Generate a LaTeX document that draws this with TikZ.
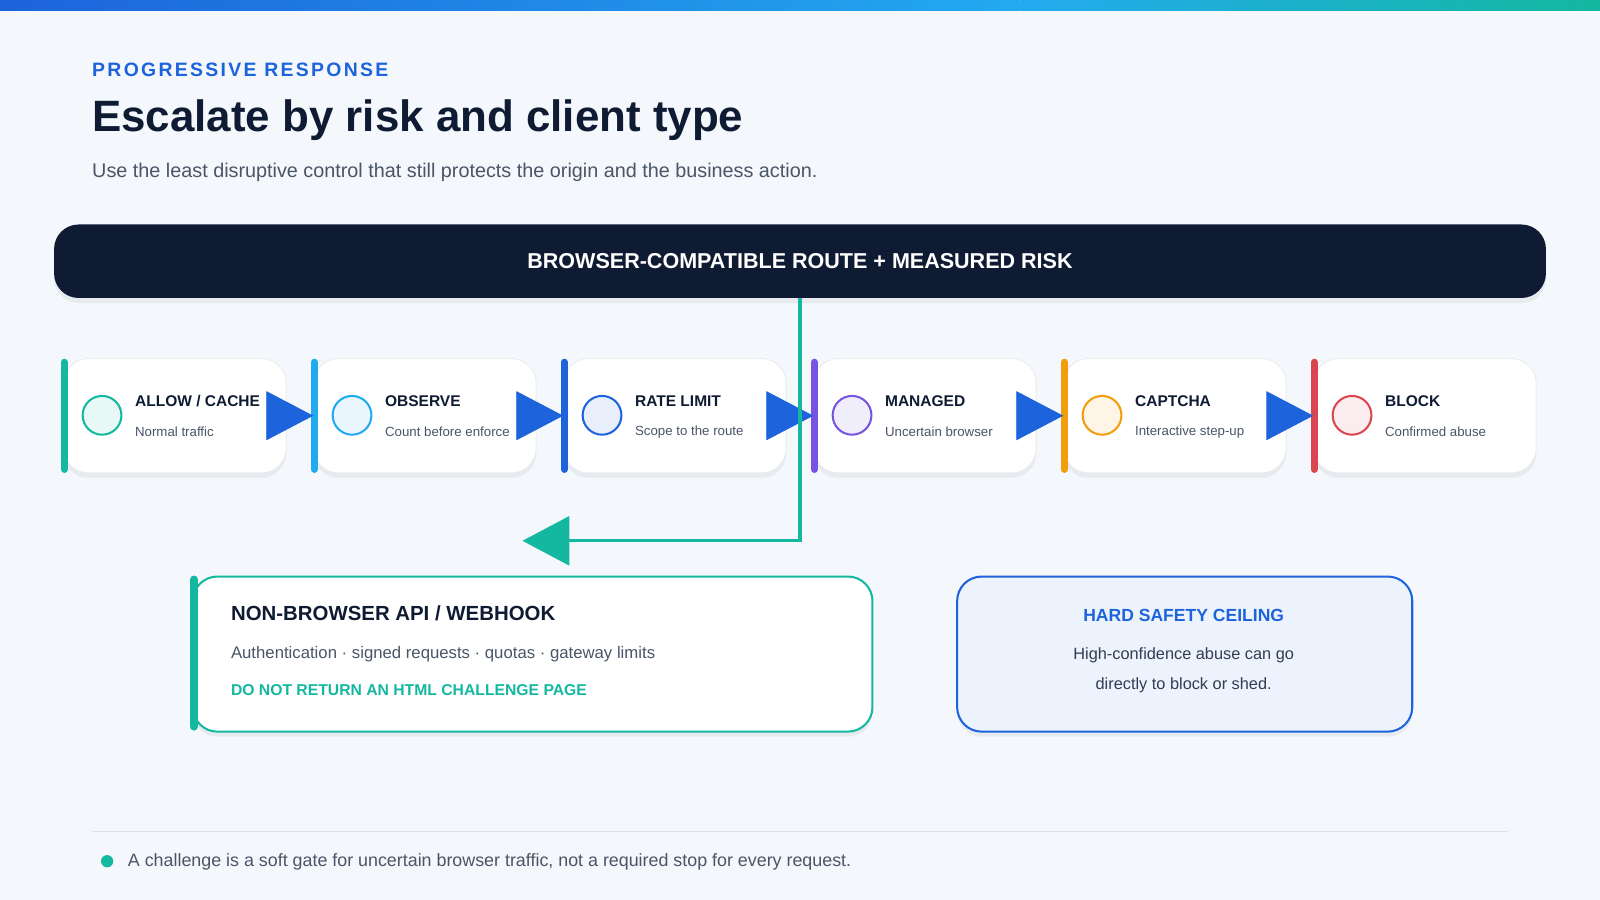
\documentclass[tikz,border=0pt]{standalone}
\usepackage{fontspec}
\setmainfont{Liberation Sans}
\usetikzlibrary{arrows.meta}
\definecolor{navy}{HTML}{0F1B33}
\definecolor{teal}{HTML}{14B8A0}
\definecolor{sky}{HTML}{22AAF0}
\definecolor{blu}{HTML}{1D63DB}
\definecolor{purp}{HTML}{7654E0}
\definecolor{amber}{HTML}{F29D0C}
\definecolor{red}{HTML}{DB4550}
\definecolor{gtxt}{HTML}{4A5568}
\definecolor{bg}{HTML}{F4F8FC}
\begin{document}
\begin{tikzpicture}[x=0.5pt,y=-0.5pt,
 shd/.style={preaction={fill=black,opacity=0.05,transform canvas={yshift=-2.5pt}}},
 card/.style={draw=black!8,fill=white,rounded corners=12pt,minimum width=109pt,minimum height=56pt,inner sep=0,shd},
 ttl/.style={anchor=west,font=\bfseries\fontsize{7.6}{9}\selectfont,text=navy,inner sep=0},
 sub/.style={anchor=west,font=\fontsize{6.5}{8}\selectfont,text=gtxt,inner sep=0},
 big/.style={blu,-{Triangle[length=23pt,width=24pt]}},
]
\useasboundingbox (0,0) rectangle (1568,882);
\fill[bg] (0,0) rectangle (1568,882);
\shade[left color=blu,right color=sky] (0,0) rectangle (1000,10);
\shade[left color=sky,right color=teal] (1000,0) rectangle (1568,10);
\node[anchor=west,inner sep=0,text=blu,font=\bfseries\fontsize{9.5}{11}\selectfont\addfontfeatures{LetterSpace=12}] (kick) at (90,68) {PROGRESSIVE RESPONSE};
\node[anchor=west,inner sep=0,text=navy,font=\bfseries\fontsize{21.5}{25}\selectfont] (title) at (90,118) {Escalate by risk and client type};
\node[anchor=west,inner sep=0,text=gtxt,font=\fontsize{9.7}{11}\selectfont] (subt) at (90,169) {Use the least disruptive control that still protects the origin and the business action.};
\node[fill=navy,rounded corners=12pt,minimum width=731pt,minimum height=36pt,text=white,font=\bfseries\fontsize{10.55}{12}\selectfont,shd] (ban) at (784,256) {BROWSER-COMPATIBLE ROUTE + MEASURED RISK};
% cards
\foreach \i/\x/\c/\t/\s in {1/62/teal/{ALLOW / CACHE}/Normal traffic,2/307/sky/OBSERVE/Count before enforce,3/552/blu/RATE LIMIT/Scope to the route,4/797/purp/MANAGED/Uncertain browser,5/1042/amber/CAPTCHA/Interactive step-up,6/1287/red/BLOCK/Confirmed abuse}{
 \node[card,anchor=north west] (c\i) at (\x,351) {};
 \draw[\c,line width=3.5pt,line cap=round] (\x+1,355) -- (\x+1,460);
 \node[circle,draw=\c,line width=1pt,fill=\c!10,minimum size=19pt,inner sep=0] (o\i) at (\x+38,407) {};
 \node[ttl] (t\i) at (\x+70,393) {\t};
 \node[sub] (s\i) at (\x+70,423) {\s};
}
\foreach \a/\b in {1/2,2/3,3/4,4/5,5/6}{\draw[big] (c\a.east) -- (c\b.west);}
% teal route
\coordinate (turn) at (784,530);
\coordinate (tip) at (512,530);
\draw[teal,line width=1.5pt,-{Triangle[length=23pt,width=24pt]}] (ban.south -| turn) -- (turn) -- (tip);
% bottom boxes
\node[draw=teal,line width=1pt,fill=white,rounded corners=12pt,minimum width=333pt,minimum height=76pt,anchor=north west,shd] (api) at (188,564) {};
\draw[teal,line width=4pt,line cap=round] (190,568) -- (190,712);
\node[anchor=west,inner sep=0,text=navy,font=\bfseries\fontsize{10}{12}\selectfont] (at) at (226,601) {NON-BROWSER API / WEBHOOK};
\node[anchor=west,inner sep=0,text=gtxt,font=\fontsize{8.2}{10}\selectfont] (as) at (226,641) {Authentication · signed requests · quotas · gateway limits};
\node[anchor=west,inner sep=0,text=teal,font=\bfseries\fontsize{7.7}{9}\selectfont] (aw) at (226,676) {DO NOT RETURN AN HTML CHALLENGE PAGE};
\node[draw=blu,line width=1pt,fill=blu!8,rounded corners=12pt,minimum width=223pt,minimum height=76pt,anchor=north west,shd] (hard) at (937,564) {};
\node[inner sep=0,text=blu,font=\bfseries\fontsize{8.6}{10}\selectfont] (ht) at (1160,603) {HARD SAFETY CEILING};
\node[inner sep=0,text=navy!85,font=\fontsize{8}{14.8}\selectfont,align=center] (hs) at (1160,657) {High-confidence abuse can go\\directly to block or shed.};
% footer
\draw[black!12,line width=0.6pt] (90,815) -- (1478,815);
\node[circle,fill=teal,minimum size=6pt,inner sep=0] (dot) at (105,844) {};
\node[anchor=west,inner sep=0,text=gtxt,font=\fontsize{8.75}{10}\selectfont] (ft) at (125,845) {A challenge is a soft gate for uncertain browser traffic, not a required stop for every request.};
\end{tikzpicture}
\end{document}
